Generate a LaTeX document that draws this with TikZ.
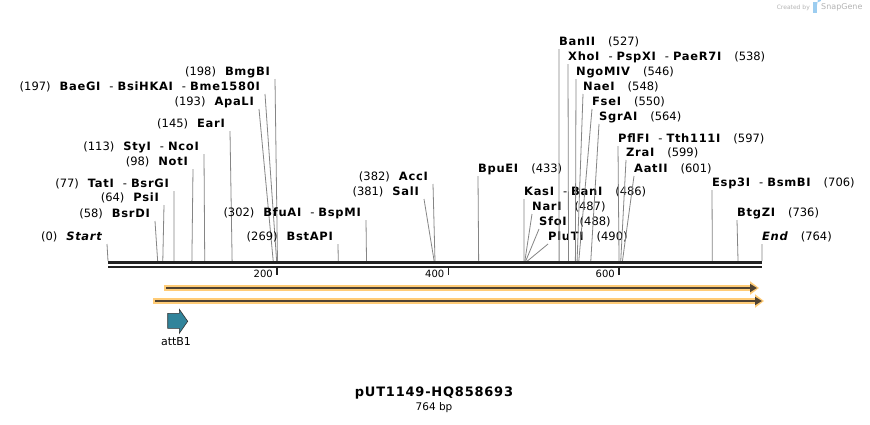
\documentclass[tikz,border=0pt]{standalone}
\usepackage{fontspec}
\setmainfont{DejaVu Sans}
\newfontface\enzb{DejaVu Sans Bold}[LetterSpace=6]
\newfontface\enzbi{DejaVu Sans Bold Oblique}[LetterSpace=6]
\usetikzlibrary{arrows.meta}

\definecolor{cutgray}{HTML}{858585}
\definecolor{bbone}{HTML}{222222}
\definecolor{orfhalo}{HTML}{FFCC77}
\definecolor{orfline}{HTML}{4F4232}
\definecolor{attteal}{HTML}{31849B}
\definecolor{logogray}{HTML}{B4B4B4}
\definecolor{logoblue}{HTML}{9CCDF0}

\newcommand{\enzsep}{\hspace{9pt}{\normalfont -}\hspace{4pt}}

\tikzset{
  enzl/.style={anchor=east, inner sep=0pt, font=\fontsize{11.5}{13}\selectfont},
  enzr/.style={anchor=west, inner sep=0pt, font=\fontsize{11.5}{13}\selectfont},
  cutline/.style={draw=cutgray, line width=0.8pt},
  tickmark/.style={draw=bbone, line width=1.4pt},
  ticklab/.style={anchor=east, inner sep=0pt, font=\fontsize{10}{12}\selectfont},
  halo/.style={draw=orfhalo, line width=5.5pt, -{Triangle[length=9pt,width=13pt]}},
  orf/.style={draw=orfline, line width=2pt, -{Triangle[length=7pt,width=8pt]}},
  featlab/.style={inner sep=0pt, font=\fontsize{11}{13}\selectfont},
}

\begin{document}
\begin{tikzpicture}[x=1pt,y=-1pt]
\fill[white] (0,0) rectangle (870,424);
\useasboundingbox (0,0) rectangle (870,424);

% sites with label on the left
\foreach \n/\bp/\lx/\ly/\nm in {
    start/0/102/237/{\enzbi Start},
    bsrdi/58/150/214/BsrDI,
    psii/64/159/198/PsiI,
    tati/77/169/184/{TatI\enzsep BsrGI},
    noti/98/188/162/NotI,
    styi/113/199/147/{StyI\enzsep NcoI},
    eari/145/225/124/EarI,
    apali/193/254/102/ApaLI,
    baegi/197/260/87/{BaeGI\enzsep BsiHKAI\enzsep Bme1580I},
    bmgbi/198/270/72/BmgBI,
    bstapi/269/333/237/BstAPI,
    bfuai/302/361/213/{BfuAI\enzsep BspMI},
    sali/381/419/192/SalI,
    acci/382/428/177/AccI} {
  \coordinate (s\n) at ({108+0.856*\bp},261);
  \node[enzl] (l\n) at (\lx,\ly) {(\bp)\hspace{9pt}{\enzb\nm}};
  \draw[cutline] ([xshift=5pt,yshift=-7pt]l\n.east) -- (s\n);
}

% sites with label on the right
\foreach \n/\bp/\lx/\ly/\nm in {
    bpuei/433/478/169/BpuEI,
    kasi/486/524/192/{KasI\enzsep BanI},
    nari/487/532/207/NarI,
    sfoi/488/539/222/SfoI,
    pluti/490/548/237/PluTI,
    banii/527/559/42/BanII,
    xhoi/538/568/57/{XhoI\enzsep PspXI\enzsep PaeR7I},
    ngomiv/546/576/72/NgoMIV,
    naei/548/583/87/NaeI,
    fsei/550/592/102/FseI,
    sgrai/564/599/117/SgrAI,
    pflfi/597/618/139/{PflFI\enzsep Tth111I},
    zrai/599/626/153/ZraI,
    aatii/601/634/169/AatII,
    esp3i/706/712/183/{Esp3I\enzsep BsmBI},
    btgzi/736/737/213/BtgZI,
    end/764/762/237/{\enzbi End}} {
  \coordinate (s\n) at ({108+0.856*\bp},261);
  \node[enzr] (l\n) at (\lx,\ly) {{\enzb\nm}\hspace{13pt}(\bp)};
  \draw[cutline] ([yshift=-7pt]l\n.west) -- (s\n);
}

% backbone
\draw[bbone, line width=3pt] (108,262.5) -- (762,262.5);
\draw[bbone, line width=2pt] (108,266.5) -- (762,266.5);
\foreach \t/\tx in {200/277,400/448.5,600/619} {
  \coordinate (k\t) at (\tx,267);
  \draw[tickmark] (k\t) -- ++(0,7.5);
  \node[ticklab] (kl\t) at ([xshift=-4pt,yshift=-7pt]k\t) {\t};
}

% open reading frames
\draw[halo] (164,288) -- (759,288);
\draw[orf] (166,288) -- (757,288);
\draw[halo] (153,301) -- (764,301);
\draw[orf] (155,301) -- (762,301);

% attB1 feature
\filldraw[fill=attteal, draw=black!80, line width=0.6pt]
  (167.7,313.3) -- (179.3,313.3) -- (179.3,309.3) -- (187.7,321.3)
  -- (179.3,333.3) -- (179.3,328.3) -- (167.7,328.3) -- cycle;
\node[featlab] (attb) at (176,342) {attB1};

% title
\node[inner sep=0pt, font=\fontsize{13}{15}\selectfont\enzb] (ttl) at (434,393) {pUT1149-HQ858693};
\node[inner sep=0pt, font=\fontsize{10.5}{12}\selectfont] (len) at (434,407.5) {764 bp};

% logo
\node[inner sep=0pt, anchor=east, text=logogray, font=\fontsize{6}{7}\selectfont] (crtd) at (810,7.5) {Created by};
\fill[logoblue] (813,2) rectangle (816.5,13);
\fill[logoblue] (816.5,2) -- (818.5,2) arc[start angle=90, end angle=-90, radius=3] -- (816.5,8) -- cycle;
\node[inner sep=0pt, anchor=west, text=logogray, font=\fontsize{8}{9}\selectfont] (snap) at (821,7.5) {SnapGene};
\end{tikzpicture}
\end{document}
